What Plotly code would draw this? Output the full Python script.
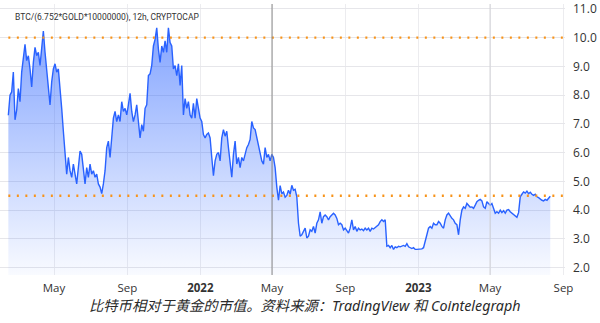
import pandas as pd
import plotly.graph_objects as go

# ---- data (BTC market cap relative to gold, 12h chart) ----
series_start = "2021-02-13 13:00"
series_step = "67h"
ratio_values = [
    7.3,
    8.0, 8.11, 8.8, 7.14, 7.48, 8.23, 7.77, 8.8, 9.26, 9.77,
    9.2, 9.37, 8.91, 8.28, 9.14, 9.66, 9.37, 9.49, 9.03, 9.6,
    10.23, 9.49, 8.8, 8.34, 7.66, 8.46, 8.91, 9.09, 8.8, 8.91,
    8.34, 7.54, 6.74, 6.05, 5.25, 5.83, 5.37, 5.14, 5.6, 5.25,
    4.91, 5.48, 6.05, 5.94, 5.48, 4.91, 5.48, 5.14, 5.6, 5.25,
    5.37, 5.14, 5.25, 4.91, 4.80, 4.57, 4.91, 5.37, 6.17, 6.40,
    5.83, 6.51, 7.20, 7.43, 7.08, 7.31, 7.08, 7.77, 7.43, 7.54,
    7.31, 7.66, 8.06, 7.43, 7.08, 7.31, 7.66, 7.08, 6.51, 6.97,
    6.74, 7.54, 7.66, 8.68, 8.74, 9.03, 9.71, 9.94, 10.34, 9.6,
    9.14, 9.71, 9.49, 9.89, 9.49, 10.34, 9.83, 9.71, 8.91, 9.03,
    8.68, 9.09, 8.34, 9.03, 7.31, 7.88, 7.54, 7.77, 7.31, 7.20,
    7.71, 7.20, 7.88, 7.54, 7.20, 7.08, 6.63, 6.51, 6.63, 6.68,
    6.51, 5.83, 5.20, 5.71, 5.94, 6.00, 5.71, 6.51, 6.80, 6.57,
    6.74, 6.17, 5.71, 5.14, 5.94, 6.40, 5.60, 5.83, 5.48, 5.83,
    5.71, 5.94, 6.17, 6.28, 6.46, 7.08, 6.86, 6.80, 6.51, 6.28,
    6.05, 5.71, 5.60, 6.17, 5.83, 5.94, 5.71, 5.94, 5.83, 5.48,
    4.80, 4.34, 4.85, 4.57, 4.63, 4.45, 4.51, 4.69, 4.55, 4.86,
    4.69, 4.72, 4.46, 3.54, 3.09, 3.14, 3.26, 3.37, 3.03, 3.09,
    3.31, 3.26, 3.43, 3.20, 3.54, 3.66, 3.94, 3.54, 3.77, 3.83,
    3.77, 3.66, 3.77, 3.83, 3.89, 3.83, 3.71, 3.49, 3.54, 3.49,
    3.31, 3.37, 3.26, 3.20, 3.37, 3.66, 3.31, 3.43, 3.26, 3.37,
    3.31, 3.34, 3.28, 3.37, 3.31, 3.37, 3.26, 3.37, 3.34, 3.40,
    3.45, 3.49, 3.60, 3.66, 3.60, 3.66, 2.74, 2.77, 2.69, 2.77,
    2.63, 2.72, 2.69, 2.74, 2.72, 2.74, 2.77, 2.74, 2.83, 2.72,
    2.69, 2.66, 2.69, 2.63, 2.63, 2.63, 2.63, 2.65, 2.69, 2.97,
    3.14, 3.37, 3.43, 3.37, 3.54, 3.49, 3.49, 3.60, 3.54, 3.43,
    3.37, 3.66, 3.83, 3.89, 3.77, 3.71, 3.66, 3.54, 3.49, 3.14,
    3.66, 4.00, 4.11, 4.06, 4.23, 4.17, 4.10, 4.11, 4.06, 4.17,
    4.29, 4.34, 4.37, 4.32, 4.11, 4.06, 4.29, 4.23, 4.17, 4.23,
    4.06, 3.89, 3.94, 3.89, 4.00, 3.91, 3.98, 3.89, 4.00, 4.02,
    3.94, 3.89, 3.83, 3.77, 3.75, 3.91, 4.46, 4.55, 4.63, 4.59,
    4.66, 4.57, 4.62, 4.55, 4.51, 4.55, 4.46, 4.43, 4.37, 4.34,
    4.32, 4.37, 4.34, 4.40, 4.48,
]
dates = pd.date_range(series_start, periods=len(ratio_values), freq=series_step)

y_ticks = [2, 3, 4, 5, 6, 7, 8, 9, 10, 11]
y_tick_labels = ["2.0", "3.0", "4.0", "5.0", "6.0", "7.0", "8.0", "9.0", "10.0", "11.0"]
x_tick_dates = ["2021-05-01", "2021-09-01", "2022-01-01", "2022-05-01",
                "2022-09-01", "2023-01-01", "2023-05-01", "2023-09-01"]
x_tick_labels = ["May", "Sep", "<b>2022</b>", "May", "Sep", "<b>2023</b>", "May", "Sep"]
ref_levels = [10.0, 4.5]
dark_grid_dates = ["2022-05-01"]
mid_grid_dates = ["2023-05-01"]

title_text = "BTC/(6.752*GOLD*10000000), 12h, CRYPTOCAP"
caption_text = "比特币相对于黄金的市值。资料来源：TradingView 和 Cointelegraph"

x_range = ["2021-01-30 14:00", "2023-09-03 12:00"]
y_range = [1.74, 11.17]

fig = go.Figure()
fig.add_trace(go.Scatter(
    x=dates, y=ratio_values, mode="lines",
    line=dict(color="#2962FF", width=1.4),
    fill="tozeroy",
    fillgradient=dict(type="vertical",
                      colorscale=[[0, "rgba(41,98,255,0.02)"], [1, "rgba(41,98,255,0.58)"]],
                      start=y_range[0], stop=10.4),
    hoverinfo="skip", showlegend=False,
))

for lvl in ref_levels:
    fig.add_shape(type="line", xref="x", yref="y", x0=dates[0], x1=x_range[1],
                  y0=lvl, y1=lvl, line=dict(color="#F7931A", width=2.4, dash="2px,6.5px"),
                  layer="above")
for d in dark_grid_dates:
    fig.add_shape(type="line", xref="x", yref="paper", x0=d, x1=d, y0=0, y1=1,
                  line=dict(color="#8a8a8a", width=1), layer="above")
for d in mid_grid_dates:
    fig.add_shape(type="line", xref="x", yref="paper", x0=d, x1=d, y0=0, y1=1,
                  line=dict(color="#d2d2d6", width=1), layer="above")

fig.add_annotation(text=title_text, xref="paper", yref="paper", x=13 / 565, y=(275 - 14) / 275,
                   xanchor="left", yanchor="middle", showarrow=False,
                   font=dict(family="Roboto", size=8.5, color="#333333"))
fig.add_annotation(text=caption_text, xref="paper", yref="paper", x=305 / 565, y=-(306 - 275) / 275,
                   xanchor="center", yanchor="middle", showarrow=False,
                   font=dict(family="Noto Sans, Noto Sans CJK SC", size=14.3, color="#2a2a2a",
                             style="italic"))

fig.update_layout(
    width=600, height=323, autosize=False,
    margin=dict(l=0, r=35, t=0, b=48, pad=0),
    paper_bgcolor="white", plot_bgcolor="white",
    xaxis=dict(range=x_range, tickvals=x_tick_dates, ticktext=x_tick_labels,
               showgrid=True, gridcolor="#ececef", gridwidth=1, zeroline=False,
               showline=False, ticks="", ticklabelstandoff=4,
               tickfont=dict(family="Open Sans", size=11.5, color="#333333")),
    yaxis=dict(range=y_range, side="right", tickvals=y_ticks, ticktext=y_tick_labels,
               showgrid=True, gridcolor="#e6e6ea", gridwidth=1, zeroline=False,
               showline=False, ticks="", ticklabelstandoff=7, ticklabeloverflow="allow",
               tickfont=dict(family="Open Sans", size=12, color="#333333")),
)

fig.write_html("out.html", config={"displayModeBar": False})
